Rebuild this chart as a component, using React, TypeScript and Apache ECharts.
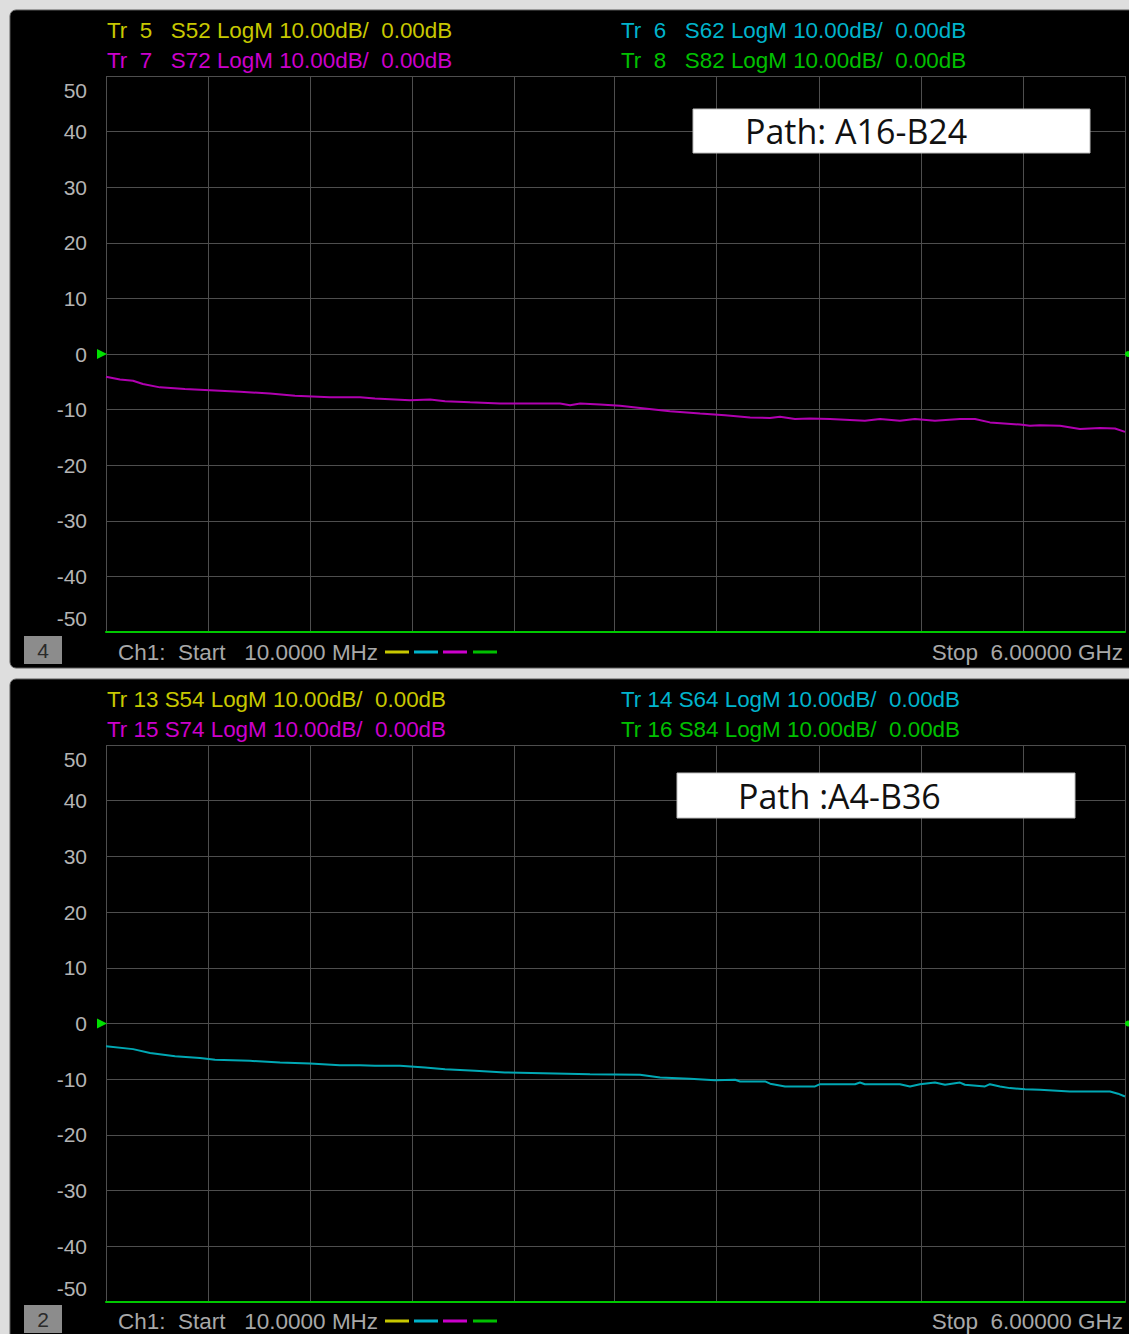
import React, { useEffect, useRef } from "react";
import * as echarts from "echarts";

// ---- axis settings ----
const START_GHZ = 0.01;
const STOP_GHZ = 6;
const Y_MIN = -50;
const Y_MAX = 50;
const Y_STEP = 10;
const X_DIVISIONS = 10;

// ---- top window: Tr 7 S72 (magenta), frequency in GHz, magnitude in dB ----
const freqTop = [
  0.01, 0.092, 0.169, 0.227, 0.327, 0.474, 0.621, 0.798, 0.974, 1.121, 1.327,
  1.503, 1.591, 1.797, 1.915, 2.003, 2.15, 2.326, 2.679, 2.738, 2.797, 2.914,
  3.032, 3.15, 3.325, 3.502, 3.649, 3.796, 3.913, 3.972, 4.06, 4.148, 4.266,
  4.471, 4.56, 4.677, 4.765, 4.883, 5.03, 5.118, 5.206, 5.383, 5.441, 5.5,
  5.618, 5.735, 5.853, 5.941, 6.0,
];
const s72 = [
  -4.1, -4.6, -4.8, -5.4, -6.0, -6.3, -6.5, -6.8, -7.1, -7.5, -7.8,
  -7.8, -8.0, -8.3, -8.2, -8.5, -8.7, -8.9, -8.9, -9.2, -8.9, -9.1,
  -9.3, -9.7, -10.3, -10.7, -11.0, -11.4, -11.5, -11.3, -11.7, -11.6, -11.7,
  -12.0, -11.7, -12.0, -11.7, -12.0, -11.7, -11.7, -12.3, -12.7, -12.9, -12.8,
  -12.9, -13.5, -13.3, -13.4, -14.0,
];

// ---- bottom window: Tr 14 S64 (cyan) ----
const freqBottom = [
  0.01, 0.169, 0.269, 0.416, 0.563, 0.651, 0.856, 1.033, 1.209, 1.385, 1.503,
  1.591, 1.738, 1.885, 2.003, 2.179, 2.355, 2.855, 3.149, 3.267, 3.443, 3.59,
  3.708, 3.737, 3.884, 3.914, 4.002, 4.178, 4.207, 4.413, 4.442, 4.471, 4.677,
  4.736, 4.795, 4.883, 4.942, 5.03, 5.059, 5.177, 5.206, 5.265, 5.324, 5.412,
  5.5, 5.676, 5.912, 5.959, 6.0,
];
const s64 = [
  -4.1, -4.6, -5.3, -5.9, -6.2, -6.5, -6.7, -7.0, -7.2, -7.5, -7.5,
  -7.6, -7.6, -7.9, -8.2, -8.5, -8.8, -9.1, -9.2, -9.7, -9.9, -10.2,
  -10.1, -10.4, -10.4, -10.8, -11.3, -11.3, -10.9, -10.9, -10.6, -10.9, -10.9,
  -11.3, -10.9, -10.6, -11.0, -10.6, -11.0, -11.3, -10.9, -11.3, -11.6, -11.8,
  -11.9, -12.2, -12.2, -12.6, -13.1,
];

// ---- texts ----
const NB = "\u00a0";
const headerTop = [
  `Tr${NB}${NB}5${NB}${NB}${NB}S52 LogM 10.00dB/${NB}${NB}0.00dB`,
  `Tr${NB}${NB}6${NB}${NB}${NB}S62 LogM 10.00dB/${NB}${NB}0.00dB`,
  `Tr${NB}${NB}7${NB}${NB}${NB}S72 LogM 10.00dB/${NB}${NB}0.00dB`,
  `Tr${NB}${NB}8${NB}${NB}${NB}S82 LogM 10.00dB/${NB}${NB}0.00dB`,
];
const headerBottom = [
  `Tr 13${NB}S54 LogM 10.00dB/${NB}${NB}0.00dB`,
  `Tr 14${NB}S64 LogM 10.00dB/${NB}${NB}0.00dB`,
  `Tr 15${NB}S74 LogM 10.00dB/${NB}${NB}0.00dB`,
  `Tr 16${NB}S84 LogM 10.00dB/${NB}${NB}0.00dB`,
];
const footerStart = `Ch1:${NB}${NB}Start${NB}${NB}${NB}10.0000 MHz`;
const footerStop = `Stop${NB}${NB}6.00000 GHz`;
const windowNumbers = ["4", "2"];
const pathLabels = ["Path: A16-B24", "Path :A4-B36"];

const YELLOW = "#c8c800";
const CYAN = "#00b4cc";
const MAGENTA = "#cc00cc";
const GREEN = "#00c000";
const TRACE_COLORS = [YELLOW, CYAN, MAGENTA, GREEN];
const GRID_COLOR = "#4e4e4e";
const LABEL_COLOR = "#b4b4b4";
const FONT = '"Liberation Sans", Arial, sans-serif';

export default function App() {
  const ref = useRef<HTMLDivElement>(null);

  useEffect(() => {
    if (!ref.current) return;
    const chart = echarts.init(ref.current, undefined, { renderer: "svg" });

    const divisions = Array.from(
      { length: X_DIVISIONS + 1 },
      (_, i) => START_GHZ + (i * (STOP_GHZ - START_GHZ)) / X_DIVISIONS
    );

    const grids = [
      { left: 106, top: 76, width: 1019, height: 556 },
      { left: 106, top: 745, width: 1019, height: 557 },
    ];

    const yAxisDef = (gridIndex: number) => ({
      type: "value",
      gridIndex,
      min: Y_MIN,
      max: Y_MAX,
      interval: Y_STEP,
      axisLine: { show: false },
      axisTick: { show: false },
      splitLine: { show: true, lineStyle: { color: GRID_COLOR, width: 1 } },
      axisLabel: {
        color: LABEL_COLOR,
        fontFamily: FONT,
        fontSize: 21,
        margin: 19,
        lineHeight: 22,
        formatter: (v: number) =>
          v === Y_MAX ? `{s| }\n${v}` : v === Y_MIN ? `${v}\n{s| }` : `${v}`,
        rich: { s: { lineHeight: 28, fontSize: 4 } },
      },
    });

    const xAxisDef = (gridIndex: number) => ({
      type: "value",
      gridIndex,
      min: START_GHZ,
      max: STOP_GHZ,
      z: 4,
      axisLine: { show: true, onZero: false, lineStyle: { color: "#00c800", width: 2 } },
      axisTick: { show: false },
      axisLabel: { show: false },
      splitLine: { show: false },
    });

    const traceSeries = (
      idx: number,
      name: string,
      freq: number[],
      vals: number[],
      color: string
    ) => ({
      type: "line",
      name,
      xAxisIndex: idx,
      yAxisIndex: idx,
      z: 3,
      data: freq.map((f, i) => [f, vals[i]]),
      showSymbol: false,
      symbol: "none",
      lineStyle: { color, width: 2 },
      itemStyle: { color },
      markLine: {
        silent: true,
        z: 1,
        symbol: ["none", "none"],
        label: { show: false },
        lineStyle: { color: GRID_COLOR, width: 1, type: "solid" },
        data: divisions.map((v) => ({ xAxis: v })),
      },
      markPoint: {
        silent: true,
        label: { show: false },
        data: [
          {
            coord: [START_GHZ, 0],
            symbol: "triangle",
            symbolSize: [10, 10],
            symbolRotate: -90,
            symbolOffset: [-4, 0],
            itemStyle: { color: "#00e000" },
          },
          {
            coord: [STOP_GHZ, 0],
            symbol: "circle",
            symbolSize: 6,
            symbolOffset: [3, 0],
            itemStyle: { color: "#00e000" },
          },
        ],
      },
    });

    const textEl = (
      text: string,
      x: number,
      y: number,
      fill: string,
      font: string,
      align = "left",
      z = 20
    ) => ({
      type: "text",
      z,
      style: {
        text,
        x,
        y,
        fill,
        font,
        align,
        textAlign: align,
        verticalAlign: "middle",
        textVerticalAlign: "middle",
      },
    });

    const panelTops = [10, 679];
    const panelHeights = [658, 700];
    const headerFont = `22.4px ${FONT}`;
    const footerFont = `22.5px ${FONT}`;
    const graphics: any[] = [];

    panelTops.forEach((pt, p) => {
      graphics.push({
        type: "rect",
        z: -10,
        shape: { x: 10, y: pt, width: 1140, height: panelHeights[p], r: 6 },
        style: { fill: "#000000", stroke: "#5a5a5a", lineWidth: 1 },
      });
      const headers = p === 0 ? headerTop : headerBottom;
      const rowY = p === 0 ? [30, 60] : [699, 729];
      const colX = [107, 621];
      graphics.push(textEl(headers[0], colX[0], rowY[0], YELLOW, headerFont));
      graphics.push(textEl(headers[1], colX[1], rowY[0], CYAN, headerFont));
      graphics.push(textEl(headers[2], colX[0], rowY[1], MAGENTA, headerFont));
      graphics.push(textEl(headers[3], colX[1], rowY[1], GREEN, headerFont));

      const footY = p === 0 ? 652 : 1321;
      const boxTop = p === 0 ? 636 : 1305;
      graphics.push({
        type: "rect",
        z: 15,
        shape: { x: 24, y: boxTop, width: 38, height: 28 },
        style: { fill: "#8c8c8c" },
      });
      graphics.push(
        textEl(windowNumbers[p], 43, boxTop + 14, "#2a2a2a", `21px ${FONT}`, "center")
      );
      graphics.push(textEl(footerStart, 118, footY, "#a8a8a8", footerFont));
      graphics.push(textEl(footerStop, 1123, footY, "#a8a8a8", footerFont, "right"));
      const dashX = [385, 414, 443, 473];
      TRACE_COLORS.forEach((c, i) => {
        graphics.push({
          type: "line",
          z: 15,
          shape: { x1: dashX[i], y1: footY, x2: dashX[i] + 24, y2: footY },
          style: { stroke: c, lineWidth: 3 },
        });
      });
    });

    // Path label boxes
    const boxes = [
      { x: 693, y: 109, w: 397, h: 44, tx: 745 },
      { x: 677, y: 773, w: 398, h: 45, tx: 738 },
    ];
    boxes.forEach((b, i) => {
      graphics.push({
        type: "rect",
        z: 30,
        shape: { x: b.x, y: b.y, width: b.w, height: b.h },
        style: { fill: "#ffffff", stroke: "#bdbdbd", lineWidth: 1 },
      });
      graphics.push(
        textEl(pathLabels[i], b.tx, b.y + b.h / 2, "#111111", `34px "Open Sans", sans-serif`, "left", 31)
      );
    });

    chart.setOption({
      animation: false,
      backgroundColor: "#dedede",
      grid: grids,
      xAxis: [xAxisDef(0), xAxisDef(1)],
      yAxis: [yAxisDef(0), yAxisDef(1)],
      series: [
        traceSeries(0, "S72", freqTop, s72, "#b000b0"),
        traceSeries(1, "S64", freqBottom, s64, "#00a8b4"),
      ],
      graphic: { elements: graphics },
    });

    return () => chart.dispose();
  }, []);

  return (
    <div
      ref={ref}
      style={{ position: "absolute", left: 0, top: 0, width: 1129, height: 1334 }}
    />
  );
}
